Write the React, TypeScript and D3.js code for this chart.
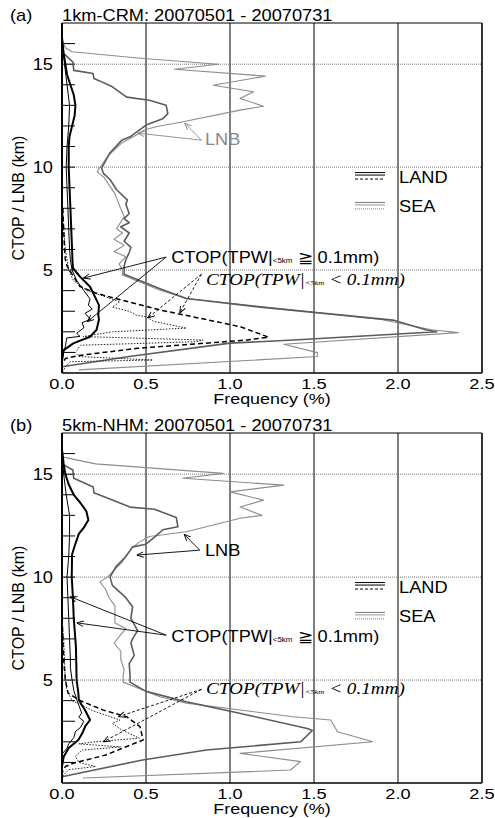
import React from "react";
import * as d3 from "d3";

type Pt = [number, number]; // [height (km), frequency (%)]

const freqTicks = [0, 0.5, 1.0, 1.5, 2.0, 2.5];
const freqGrid = [0.5, 1.0, 1.5, 2.0];
const kmGrid = [5, 10, 15];
const kmMinor = d3.range(1, 17);

// ---- (a) 1km-CRM ----
const aCtopLandWet: Pt[] = [
  [16.3, 0], [15.5, 0.01], [15, 0.02], [14.5, 0.03], [14, 0.05], [13.5, 0.07], [13, 0.08],
  [12.5, 0.075], [12, 0.06], [11.5, 0.045], [11, 0.04], [10, 0.04], [9, 0.045], [8, 0.05],
  [7, 0.055], [6, 0.06], [5.5, 0.062], [5.1, 0.065], [4.68, 0.107], [4.19, 0.167], [3.54, 0.206],
  [3.3, 0.22], [2.82, 0.216], [2.6, 0.22], [2.1, 0.206], [1.76, 0.167], [1.44, 0.067],
  [1.1, 0.008], [0.6, 0], [0, 0],
];
const aCtopSeaWet: Pt[] = [
  [16.3, 0], [15, 0.015], [14, 0.03], [13, 0.045], [12, 0.04], [11, 0.03], [10, 0.025],
  [9, 0.03], [8, 0.035], [7, 0.04], [6, 0.045], [5.5, 0.05], [5.0, 0.06], [4.5, 0.087],
  [4.0, 0.13], [3.6, 0.167], [3.3, 0.157], [3.1, 0.18], [2.9, 0.137], [2.6, 0.17],
  [2.45, 0.12], [2.2, 0.13], [1.93, 0.087], [1.78, 0.107], [1.7, 0.028], [1.3, 0.02],
  [1.0, 0.01], [0.5, 0], [0, 0],
];
const aCtopLandDry: Pt[] = [
  [8, 0.005], [7, 0.01], [6, 0.015], [5.5, 0.02], [5.2, 0.03], [4.8, 0.06], [4.2, 0.107],
  [3.87, 0.206], [3.55, 0.35], [3.06, 0.583], [2.66, 0.82], [2.25, 1.06], [1.74, 1.23],
  [1.6, 1.1], [1.2, 0.45], [0.85, 0.1], [0.7, 0.02], [0.4, 0], [0, 0],
];
const aCtopSeaDry: Pt[] = [
  [8, 0.005], [7, 0.01], [6, 0.02], [5.5, 0.03], [5.0, 0.04], [4.5, 0.067], [4.0, 0.15],
  [3.46, 0.345], [3.2, 0.3], [3.0, 0.4], [2.82, 0.44], [2.73, 0.5], [2.5, 0.55], [2.18, 0.74],
  [2.0, 0.3], [1.77, 0.125], [1.6, 0.84], [1.52, 0.8], [1.35, 0.11], [1.0, 0.08], [0.8, 0.1],
  [0.63, 0.54], [0.55, 0.05], [0.3, 0.02], [0, 0],
];
const aLnbDark: Pt[] = [
  [15.6, 0], [15.1, 0.065], [14.7, 0.07], [14.55, 0.185], [14.3, 0.19], [14.2, 0.22],
  [13.9, 0.3], [13.4, 0.385], [13.25, 0.52], [13.0, 0.62], [12.6, 0.63], [12.35, 0.6],
  [12.04, 0.5], [11.8, 0.46], [11.47, 0.405], [11.3, 0.355], [10.7, 0.286], [9.95, 0.236],
  [9.7, 0.246], [9.4, 0.286], [8.9, 0.325], [8.4, 0.39], [8.2, 0.38], [7.75, 0.4], [7.5, 0.37],
  [7.3, 0.4], [7.1, 0.35], [6.8, 0.4], [6.4, 0.37], [6.1, 0.41], [5.85, 0.4], [5.5, 0.38],
  [5.2, 0.37], [4.8, 0.37], [4.1, 0.58], [3.62, 0.74], [3.2, 1.18], [2.57, 1.97],
  [2.09, 2.17], [2.0, 2.23], [1.6, 1.38], [1.45, 1.0], [0.8, 0.4], [0.3, 0],
];
const aLnbLight: Pt[] = [
  [16.2, 0], [15.8, 0.02], [15.6, 0.06], [15.3, 0.45], [15.0, 0.93], [14.75, 0.67],
  [14.42, 1.21], [13.98, 0.9], [13.66, 1.14], [13.33, 1.06], [12.96, 1.2], [12.77, 1.06],
  [12.2, 0.72], [11.96, 0.56], [11.8, 0.49], [11.55, 0.44], [11.2, 0.36], [10.6, 0.28],
  [10.0, 0.226], [9.77, 0.21], [9.5, 0.25], [8.7, 0.315], [8.07, 0.345], [7.6, 0.37],
  [7.0, 0.325], [6.8, 0.36], [6.5, 0.31], [6.2, 0.37], [5.9, 0.31], [5.65, 0.38], [5.3, 0.34],
  [5.0, 0.36], [4.76, 0.36], [4.03, 0.58], [3.62, 0.74], [3.3, 1.1], [2.6, 1.9], [2.1, 2.2],
  [1.96, 2.36], [1.4, 1.32], [0.99, 1.52], [0.8, 1.52], [0.15, 0.1],
];

// ---- (b) 5km-NHM ----
const bCtopLandWet: Pt[] = [
  [16.2, 0], [15.5, 0.01], [15, 0.02], [14.5, 0.04], [14, 0.07], [13.6, 0.11], [13.2, 0.145],
  [12.77, 0.157], [12.4, 0.13], [12.1, 0.1], [11.5, 0.075], [11.1, 0.06], [10, 0.058],
  [9, 0.065], [8, 0.07], [6.6, 0.083], [5.0, 0.087], [4.4, 0.097], [4.03, 0.1], [3.5, 0.14],
  [3.06, 0.167], [2.78, 0.14], [2.4, 0.12], [2.09, 0.097], [1.7, 0.04], [1.27, 0.01],
  [0.8, 0], [0, 0],
];
const bCtopSeaWet: Pt[] = [
  [16.2, 0], [15, 0.01], [14, 0.025], [13, 0.045], [12, 0.045], [11, 0.04], [10, 0.03],
  [9, 0.035], [8, 0.04], [7, 0.045], [6, 0.05], [5.6, 0.05], [5, 0.06], [4.5, 0.07],
  [4.0, 0.09], [3.4, 0.117], [3.2, 0.1], [3.0, 0.13], [2.7, 0.11], [2.5, 0.08], [2.2, 0.07],
  [1.9, 0.04], [1.7, 0.03], [1.4, 0], [0, 0],
];
const bCtopLandDry: Pt[] = [
  [8, 0], [7, 0.005], [6, 0.01], [5, 0.02], [4.6, 0.03], [4.37, 0.036], [4.03, 0.1],
  [3.54, 0.246], [3.22, 0.385], [2.74, 0.464], [2.09, 0.483], [1.77, 0.385], [1.36, 0.26],
  [1.13, 0.15], [0.97, 0.07], [0.8, 0.02], [0.5, 0], [0, 0],
];
const bCtopSeaDry: Pt[] = [
  [8, 0], [7, 0.01], [6, 0.015], [5, 0.02], [4.5, 0.03], [4.0, 0.06], [3.5, 0.186],
  [3.06, 0.345], [2.9, 0.3], [2.6, 0.35], [2.18, 0.46], [2.0, 0.2], [1.9, 0.1], [1.75, 0.35],
  [1.6, 0.12], [1.3, 0.08], [1.0, 0.1], [0.8, 0.2], [0.65, 0.04], [0.3, 0], [0, 0],
];
const bLnbDark: Pt[] = [
  [15.5, 0], [15.2, 0.065], [14.8, 0.07], [14.38, 0.186], [14.1, 0.19], [13.4, 0.405],
  [13.3, 0.55], [12.9, 0.68], [12.45, 0.69], [12.3, 0.6], [12.0, 0.56], [11.6, 0.5],
  [11.47, 0.42], [11.0, 0.38], [10.5, 0.32], [10.0, 0.286], [9.6, 0.3], [9.0, 0.38],
  [8.56, 0.42], [8.0, 0.41], [7.4, 0.45], [7.0, 0.42], [6.8, 0.41], [6.2, 0.43], [5.8, 0.4],
  [5.24, 0.405], [4.9, 0.405], [4.45, 0.5], [3.95, 0.74], [3.4, 1.05], [2.65, 1.46],
  [2.55, 1.49], [2.0, 1.42], [1.6, 0.86], [1.12, 0.48], [0.3, 0],
];
const bLnbLight: Pt[] = [
  [15.84, 0], [15.5, 0.2], [15.04, 0.96], [14.8, 0.72], [14.47, 1.32], [14.14, 1.0],
  [13.74, 1.2], [13.41, 1.06], [13.0, 1.19], [12.86, 1.06], [12.2, 0.74], [11.97, 0.52],
  [11.7, 0.46], [11.4, 0.415], [10.7, 0.355], [10.0, 0.27], [9.77, 0.226], [9.4, 0.26],
  [9.0, 0.28], [8.6, 0.315], [7.77, 0.315], [7.5, 0.38], [7.3, 0.36], [6.8, 0.31],
  [6.4, 0.35], [6.0, 0.35], [5.5, 0.37], [5.24, 0.364], [4.9, 0.364], [4.19, 0.583],
  [3.88, 0.74], [3.22, 1.375], [3.06, 1.6], [2.49, 1.64], [2.0, 1.85], [1.44, 1.06],
  [1.04, 1.42], [0.63, 1.36], [0.24, 0.125],
];

const SANS = "'Liberation Sans', Arial, Helvetica, sans-serif";
const SERIF = "'Liberation Serif', 'Times New Roman', serif";
const SX = 1.14; // text in the figure is a bit wider than it is tall

const STYLES: Record<string, { stroke: string; width: number; dash?: string }> = {
  lnbLight: { stroke: "#8c8c8c", width: 1.1 },
  lnbDark: { stroke: "#5c5c5c", width: 1.6 },
  seaDry: { stroke: "#222", width: 1, dash: "1.5,1.5" },
  landDry: { stroke: "#000", width: 1.5, dash: "5,3" },
  seaWet: { stroke: "#000", width: 1 },
  landWet: { stroke: "#000", width: 2 },
};

function Txt({ x, y, sx = SX, children, ...rest }: any) {
  return (
    <text transform={`translate(${x},${y}) scale(${sx},1)`} {...rest}>
      {children}
    </text>
  );
}

function Panel({ top, tag, title, series, ann, lnbColor }: any) {
  const bottom = top + 350;
  const x = d3.scaleLinear().domain([0, 2.5]).range([62, 482]);
  const y = d3.scaleLinear().domain([0, 17]).range([bottom, top]);
  const line = d3
    .line<Pt>()
    .x((d) => x(d[1]))
    .y((d) => y(d[0]));

  const arrow = (from: Pt, to: Pt, color: string, dashed: boolean, i: number) => (
    <line
      key={i}
      x1={x(from[1])}
      y1={y(from[0])}
      x2={x(to[1])}
      y2={y(to[0])}
      stroke={color}
      strokeWidth={0.9}
      strokeDasharray={dashed ? "3,2" : undefined}
      markerEnd={color === "#000" ? "url(#arrK)" : "url(#arrG)"}
    />
  );

  const legend = (label: string, h: number, c1: string, c2: string, dash: string) => {
    const base = y(h);
    const x0 = x(1.744);
    const x1 = x(1.923);
    return (
      <g>
        <line x1={x0} x2={x1} y1={base - 10} y2={base - 10} stroke={c1} strokeWidth={1} />
        <line x1={x0} x2={x1} y1={base - 7.5} y2={base - 7.5} stroke={c2} strokeWidth={1} />
        <line x1={x0} x2={x1} y1={base - 3.5} y2={base - 3.5} stroke={c1} strokeWidth={1} strokeDasharray={dash} />
        <Txt x={x(2.0) + 1} y={base} fontFamily={SANS} fontSize={16}>
          {label}
        </Txt>
      </g>
    );
  };

  return (
    <g>
      {/* titles */}
      <Txt x={10} y={top - 2} fontFamily={SANS} fontSize={16}>
        {tag}
      </Txt>
      <Txt x={62} y={top - 2} fontFamily={SANS} fontSize={16}>
        {title}
      </Txt>

      {/* grid */}
      {freqGrid.map((v) => (
        <line key={v} x1={x(v)} x2={x(v)} y1={top} y2={bottom} stroke="#555" strokeWidth={1.5} />
      ))}
      {kmGrid.map((v) => (
        <line key={v} x1={x(0)} x2={x(2.5)} y1={y(v)} y2={y(v)} stroke="#777" strokeWidth={1} strokeDasharray="1,1" />
      ))}

      {/* frame */}
      <line x1={x(0)} x2={x(2.5)} y1={top} y2={top} stroke="#000" strokeWidth={1} />
      <line x1={x(0)} x2={x(2.5)} y1={bottom} y2={bottom} stroke="#000" strokeWidth={1.5} />
      <line x1={x(2.5)} x2={x(2.5)} y1={top} y2={bottom} stroke="#333" strokeWidth={2} />
      <line x1={x(0)} x2={x(0)} y1={top} y2={bottom} stroke="#000" strokeWidth={2} />
      {kmMinor.map((v) => (
        <line key={v} x1={x(0)} x2={x(0) + 13} y1={y(v)} y2={y(v)} stroke="#000" strokeWidth={1} />
      ))}

      {/* curves */}
      {series.map((s: any) => {
        const st = STYLES[s.style];
        return (
          <path
            key={s.style}
            d={line(s.data) || ""}
            fill="none"
            stroke={st.stroke}
            strokeWidth={st.width}
            strokeDasharray={st.dash}
            strokeLinejoin="round"
          />
        );
      })}

      {/* axes labels */}
      {kmGrid.map((v) => (
        <Txt key={v} x={53} y={y(v) + 6} fontFamily={SANS} fontSize={16} textAnchor="end">
          {v}
        </Txt>
      ))}
      {freqTicks.map((v) => (
        <Txt key={v} x={x(v)} y={bottom + 15.5} sx={1.3} fontFamily={SANS} fontSize={14} textAnchor="middle">
          {v.toFixed(1)}
        </Txt>
      ))}
      <Txt x={x(1.25)} y={bottom + 31} sx={1.28} fontFamily={SANS} fontSize={14} textAnchor="middle">
        Frequency (%)
      </Txt>
      <text
        transform={`translate(24,${(top + bottom) / 2}) rotate(-90)`}
        fontFamily={SANS}
        fontSize={16}
        textAnchor="middle"
      >
        CTOP / LNB (km)
      </text>

      {/* legend */}
      {legend("LAND", 9.25, "#000", "#000", "3,2")}
      {legend("SEA", 7.8, "#777", "#999", "1,1")}

      {/* annotations */}
      <Txt x={x(ann.lnb.text[1])} y={y(ann.lnb.text[0])} fontFamily={SANS} fontSize={16} fill={lnbColor}>
        LNB
      </Txt>
      {ann.lnb.to.map((t: Pt, i: number) => arrow(ann.lnb.from, t, lnbColor, false, i))}

      <Txt x={x(ann.wet.text[1])} y={y(ann.wet.text[0])} fontFamily={SANS} fontSize={16}>
        CTOP(TPW|<tspan fontSize={7}>{"<5km"}</tspan> ≧ 0.1mm)
      </Txt>
      {ann.wet.to.map((t: Pt, i: number) => arrow(ann.wet.from, t, "#000", false, i))}

      <Txt
        x={x(ann.dry.text[1])}
        y={y(ann.dry.text[0])}
        sx={1.2}
        fontFamily={SERIF}
        fontStyle="italic"
        fontSize={16}
      >
        CTOP(TPW|<tspan fontSize={7}>{"<5km"}</tspan> {"< 0.1mm)"}
      </Txt>
      {ann.dry.to.map((t: Pt, i: number) => arrow(ann.dry.from, t, "#000", true, i))}
    </g>
  );
}

export default function App() {
  const seriesA = [
    { style: "lnbLight", data: aLnbLight },
    { style: "lnbDark", data: aLnbDark },
    { style: "seaDry", data: aCtopSeaDry },
    { style: "landDry", data: aCtopLandDry },
    { style: "seaWet", data: aCtopSeaWet },
    { style: "landWet", data: aCtopLandWet },
  ];
  const seriesB = [
    { style: "lnbLight", data: bLnbLight },
    { style: "lnbDark", data: bLnbDark },
    { style: "seaDry", data: bCtopSeaDry },
    { style: "landDry", data: bCtopLandDry },
    { style: "seaWet", data: bCtopSeaWet },
    { style: "landWet", data: bCtopLandWet },
  ];
  const annA = {
    lnb: { text: [11.07, 0.851], from: [11.31, 0.83], to: [[12.14, 0.73], [11.65, 0.45]] },
    wet: { text: [5.34, 0.65], from: [5.63, 0.62], to: [[4.61, 0.127], [2.49, 0.15]] },
    dry: { text: [4.27, 0.857], from: [4.8, 0.83], to: [[2.67, 0.51], [2.91, 0.7]] },
  };
  const annB = {
    lnb: { text: [11.02, 0.851], from: [11.31, 0.82], to: [[12.09, 0.726], [11.07, 0.445]] },
    wet: { text: [6.87, 0.65], from: [7.18, 0.62], to: [[9.05, 0.048], [7.78, 0.087]] },
    dry: { text: [4.32, 0.857], from: [4.55, 0.83], to: [[3.22, 0.335], [2.0, 0.246]] },
  };

  return (
    <div>
      <style>{`body{margin:0;background:#fff}`}</style>
      <svg width={495} height={818} viewBox="0 0 495 818" style={{ display: "block" }}>
        <defs>
          <marker id="arrK" viewBox="0 0 10 10" refX="10" refY="5" markerWidth="7" markerHeight="7"
            markerUnits="userSpaceOnUse" orient="auto">
            <path d="M0,1 L10,5 L0,9" fill="none" stroke="#000" strokeWidth={1.3} />
          </marker>
          <marker id="arrG" viewBox="0 0 10 10" refX="10" refY="5" markerWidth="7" markerHeight="7"
            markerUnits="userSpaceOnUse" orient="auto">
            <path d="M0,1 L10,5 L0,9" fill="none" stroke="#888" strokeWidth={1.3} />
          </marker>
        </defs>
        <rect width={495} height={818} fill="#fff" />
        <Panel top={23} tag="(a)" title="1km-CRM: 20070501 - 20070731" series={seriesA} ann={annA} lnbColor="#888" />
        <Panel top={433} tag="(b)" title="5km-NHM: 20070501 - 20070731" series={seriesB} ann={annB} lnbColor="#000" />
      </svg>
    </div>
  );
}
